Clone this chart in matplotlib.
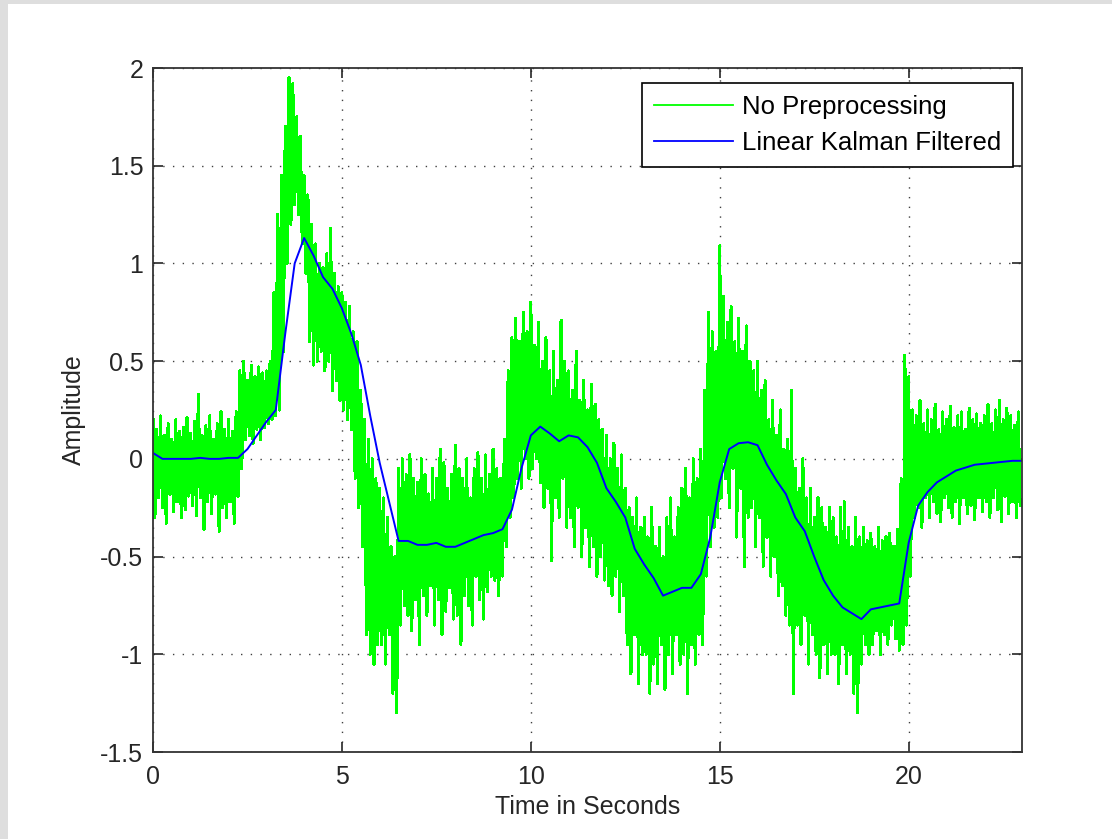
import numpy as np
import matplotlib.pyplot as plt
from matplotlib.patches import Rectangle

# raw signal: local max / min in each 0.1 s window (t = 0.0 ... 22.9)
raw_high = [
    0.20, 0.15, 0.22, 0.12, 0.18, 0.10, 0.20, 0.14, 0.16, 0.21,
    0.13, 0.19, 0.33, 0.12, 0.17, 0.22, 0.10, 0.18, 0.24, 0.15,
    0.20, 0.14, 0.24, 0.45, 0.50, 0.40, 0.48, 0.42, 0.47, 0.44,
    0.45, 0.50, 0.85, 1.25, 1.45, 1.70, 1.95, 1.92, 1.75, 1.65,
    1.45, 1.35, 1.20, 1.10, 1.00, 0.98, 1.05, 1.18, 0.95, 0.88,
    0.85, 0.80, 0.78, 0.65, 0.60, 0.35, 0.20, 0.10, 0.00, -0.10,
    -0.15, -0.20, -0.30, -0.45, -0.50, -0.05, 0.00, -0.08, 0.02, -0.10,
    -0.12, 0.00, -0.08, -0.18, -0.05, -0.10, 0.05, -0.02, -0.15, -0.08,
    0.07, -0.05, -0.10, 0.00, -0.20, -0.05, 0.03, -0.10, 0.02, -0.08,
    0.05, -0.05, -0.10, 0.10, 0.45, 0.62, 0.72, 0.60, 0.75, 0.65,
    0.80, 0.58, 0.70, 0.50, 0.62, 0.45, 0.55, 0.40, 0.71, 0.50,
    0.45, 0.35, 0.55, 0.30, 0.40, 0.25, 0.38, 0.28, 0.20, 0.15,
    0.12, 0.00, 0.08, -0.05, 0.02, -0.15, -0.25, -0.30, -0.20, -0.35,
    -0.30, -0.40, -0.25, -0.45, -0.35, -0.50, -0.30, -0.20, -0.40, -0.25,
    -0.15, -0.05, -0.20, 0.00, -0.10, 0.05, 0.35, 0.75, 0.65, 0.55,
    1.09, 0.83, 0.70, 0.78, 0.60, 0.72, 0.55, 0.68, 0.50, 0.45,
    0.50, 0.35, 0.40, 0.20, 0.30, 0.12, 0.25, 0.05, 0.10, 0.35,
    -0.05, -0.15, 0.00, -0.20, -0.15, -0.30, -0.20, -0.25, -0.35, -0.25,
    -0.30, -0.40, -0.25, -0.22, -0.35, -0.45, -0.30, -0.40, -0.35, -0.42,
    -0.38, -0.45, -0.35, -0.42, -0.40, -0.38, -0.45, -0.36, -0.10, 0.53,
    0.42, 0.25, 0.22, 0.30, 0.18, 0.25, 0.20, 0.28, 0.15, 0.24,
    0.20, 0.27, 0.16, 0.22, 0.24, 0.15, 0.26, 0.20, 0.23, 0.18,
    0.22, 0.28, 0.18, 0.25, 0.30, 0.20, 0.26, 0.22, 0.17, 0.24,
]
raw_low = [
    -0.30, -0.20, -0.25, -0.33, -0.18, -0.27, -0.22, -0.30, -0.26, -0.19,
    -0.24, -0.29, -0.20, -0.36, -0.22, -0.28, -0.18, -0.37, -0.25, -0.30,
    -0.22, -0.33, -0.19, -0.05, 0.10, 0.12, 0.08, 0.15, 0.10, 0.16,
    0.18, 0.20, 0.22, 0.25, 0.55, 1.00, 1.20, 1.30, 1.25, 1.10,
    0.95, 0.60, 0.48, 0.50, 0.55, 0.45, 0.50, 0.35, 0.40, 0.30,
    0.25, 0.20, 0.15, -0.10, -0.25, -0.45, -0.90, -1.00, -1.05, -0.95,
    -0.95, -1.05, -0.90, -1.20, -1.30, -0.85, -0.75, -0.80, -0.88, -0.72,
    -0.95, -0.70, -0.80, -0.65, -0.85, -0.72, -0.90, -0.78, -0.66, -0.82,
    -0.80, -0.95, -0.70, -0.75, -0.85, -0.60, -0.72, -0.82, -0.68, -0.60,
    -0.62, -0.70, -0.60, -0.45, -0.30, -0.20, -0.10, -0.15, 0.00, -0.10,
    -0.05, 0.00, -0.12, -0.25, -0.15, -0.52, -0.20, -0.30, -0.10, -0.35,
    -0.30, -0.45, -0.25, -0.50, -0.35, -0.55, -0.45, -0.60, -0.50, -0.62,
    -0.65, -0.70, -0.60, -0.78, -0.70, -0.95, -1.10, -0.90, -1.15, -1.00,
    -1.00, -1.20, -1.05, -1.15, -0.95, -1.18, -1.00, -1.10, -0.90, -1.05,
    -1.00, -1.20, -0.95, -1.05, -0.90, -0.95, -0.60, -0.45, -0.35, -0.30,
    -0.20, -0.10, -0.25, -0.05, -0.40, -0.15, -0.55, -0.30, -0.25, -0.45,
    -0.30, -0.55, -0.40, -0.60, -0.50, -0.70, -0.65, -0.80, -0.85, -1.20,
    -0.85, -0.95, -0.80, -1.05, -0.90, -1.00, -1.12, -0.95, -1.10, -1.00,
    -1.00, -1.15, -0.95, -1.10, -1.00, -1.20, -1.30, -1.05, -0.95, -1.00,
    -0.95, -0.88, -1.00, -0.90, -0.95, -0.85, -0.92, -0.98, -0.95, -0.85,
    -0.60, -0.30, -0.25, -0.35, -0.20, -0.30, -0.22, -0.28, -0.32, -0.20,
    -0.25, -0.30, -0.22, -0.33, -0.20, -0.28, -0.24, -0.31, -0.20, -0.27,
    -0.22, -0.30, -0.20, -0.26, -0.32, -0.19, -0.28, -0.22, -0.30, -0.24,
]

# Kalman filter output, every 0.25 s from 0 to 23
kalman = [
    0.03, 0.00, 0.00, 0.00, 0.00, 0.005, 0.00, 0.00,
    0.005, 0.005, 0.05, 0.12, 0.19, 0.25, 0.64, 1.00,
    1.13, 1.04, 0.93, 0.87, 0.77, 0.64, 0.48, 0.22,
    -0.02, -0.22, -0.42, -0.42, -0.44, -0.44, -0.43, -0.45,
    -0.45, -0.43, -0.41, -0.39, -0.38, -0.36, -0.26, -0.05,
    0.12, 0.165, 0.13, 0.09, 0.12, 0.11, 0.06, -0.02,
    -0.15, -0.22, -0.30, -0.46, -0.54, -0.61, -0.70, -0.68,
    -0.66, -0.66, -0.59, -0.40, -0.12, 0.05, 0.08, 0.085,
    0.07, -0.03, -0.11, -0.18, -0.30, -0.37, -0.50, -0.62,
    -0.70, -0.76, -0.79, -0.82, -0.77, -0.76, -0.75, -0.74,
    -0.43, -0.24, -0.17, -0.12, -0.09, -0.06, -0.045, -0.03,
    -0.025, -0.02, -0.015, -0.01, -0.01,
]

x_ticks = [0, 5, 10, 15, 20]
y_ticks = [-1.5, -1, -0.5, 0, 0.5, 1, 1.5, 2]

# max then min in each window -> a dense zig-zag like the sampled trace
raw = np.column_stack([raw_high, raw_low]).ravel()
t_raw = np.arange(len(raw)) * 0.05
t_kal = np.arange(len(kalman)) * 0.25

plt.rcParams['font.family'] = ['Liberation Sans', 'DejaVu Sans']
plt.rcParams['axes.unicode_minus'] = False

fig = plt.figure(figsize=(11.12, 8.39), dpi=100)
fig.patch.set_facecolor('white')
# light grey window edge on the left and top
fig.add_artist(Rectangle((0, 0), 8 / 1112, 1, transform=fig.transFigure,
                         facecolor='#dedede', edgecolor='none'))
fig.add_artist(Rectangle((0, 1 - 4 / 839), 1, 4 / 839, transform=fig.transFigure,
                         facecolor='#dedede', edgecolor='none'))

ax = fig.add_axes([153 / 1112, 87 / 839, 869 / 1112, 684 / 839])
ax.plot(t_raw, raw, color='#00ff00', lw=1.5, antialiased=False,
        label='No Preprocessing')
ax.plot(t_kal, kalman, color='#0000ff', lw=1.4, label='Linear Kalman Filtered')

ax.set_xlim(0, 23)
ax.set_ylim(-1.5, 2)
ax.set_xticks(x_ticks)
ax.set_yticks(y_ticks)
ax.set_yticklabels(['-1.5', '-1', '-0.5', '0', '0.5', '1', '1.5', '2'])

ax.grid(True, color='0.25', linestyle=(0, (1, 6)), lw=1.0)
ax.tick_params(direction='in', length=7, width=1.2, colors='#262626',
               labelsize=18, top=True, right=True)
ax.tick_params(axis='y', pad=7)
ax.tick_params(axis='x', pad=9)
for s in ax.spines.values():
    s.set_color('#333333')
    s.set_linewidth(1.3)

ax.set_xlabel('Time in Seconds', fontsize=18, color='#262626', labelpad=5)
ax.set_ylabel('Amplitude', fontsize=18, color='#262626', labelpad=10)

leg = ax.legend(loc='upper right', bbox_to_anchor=(1 - 9 / 869, 1 - 15 / 684),
                borderaxespad=0, fontsize=18.5, fancybox=False, framealpha=1,
                edgecolor='black', handlelength=3.1, handletextpad=0.35,
                labelspacing=0.5, borderpad=0.45)
leg.get_frame().set_linewidth(1.2)
for h in leg.get_lines():
    h.set_linewidth(1.3)
    h.set_antialiased(True)

fig.savefig('out.png', dpi=100)
